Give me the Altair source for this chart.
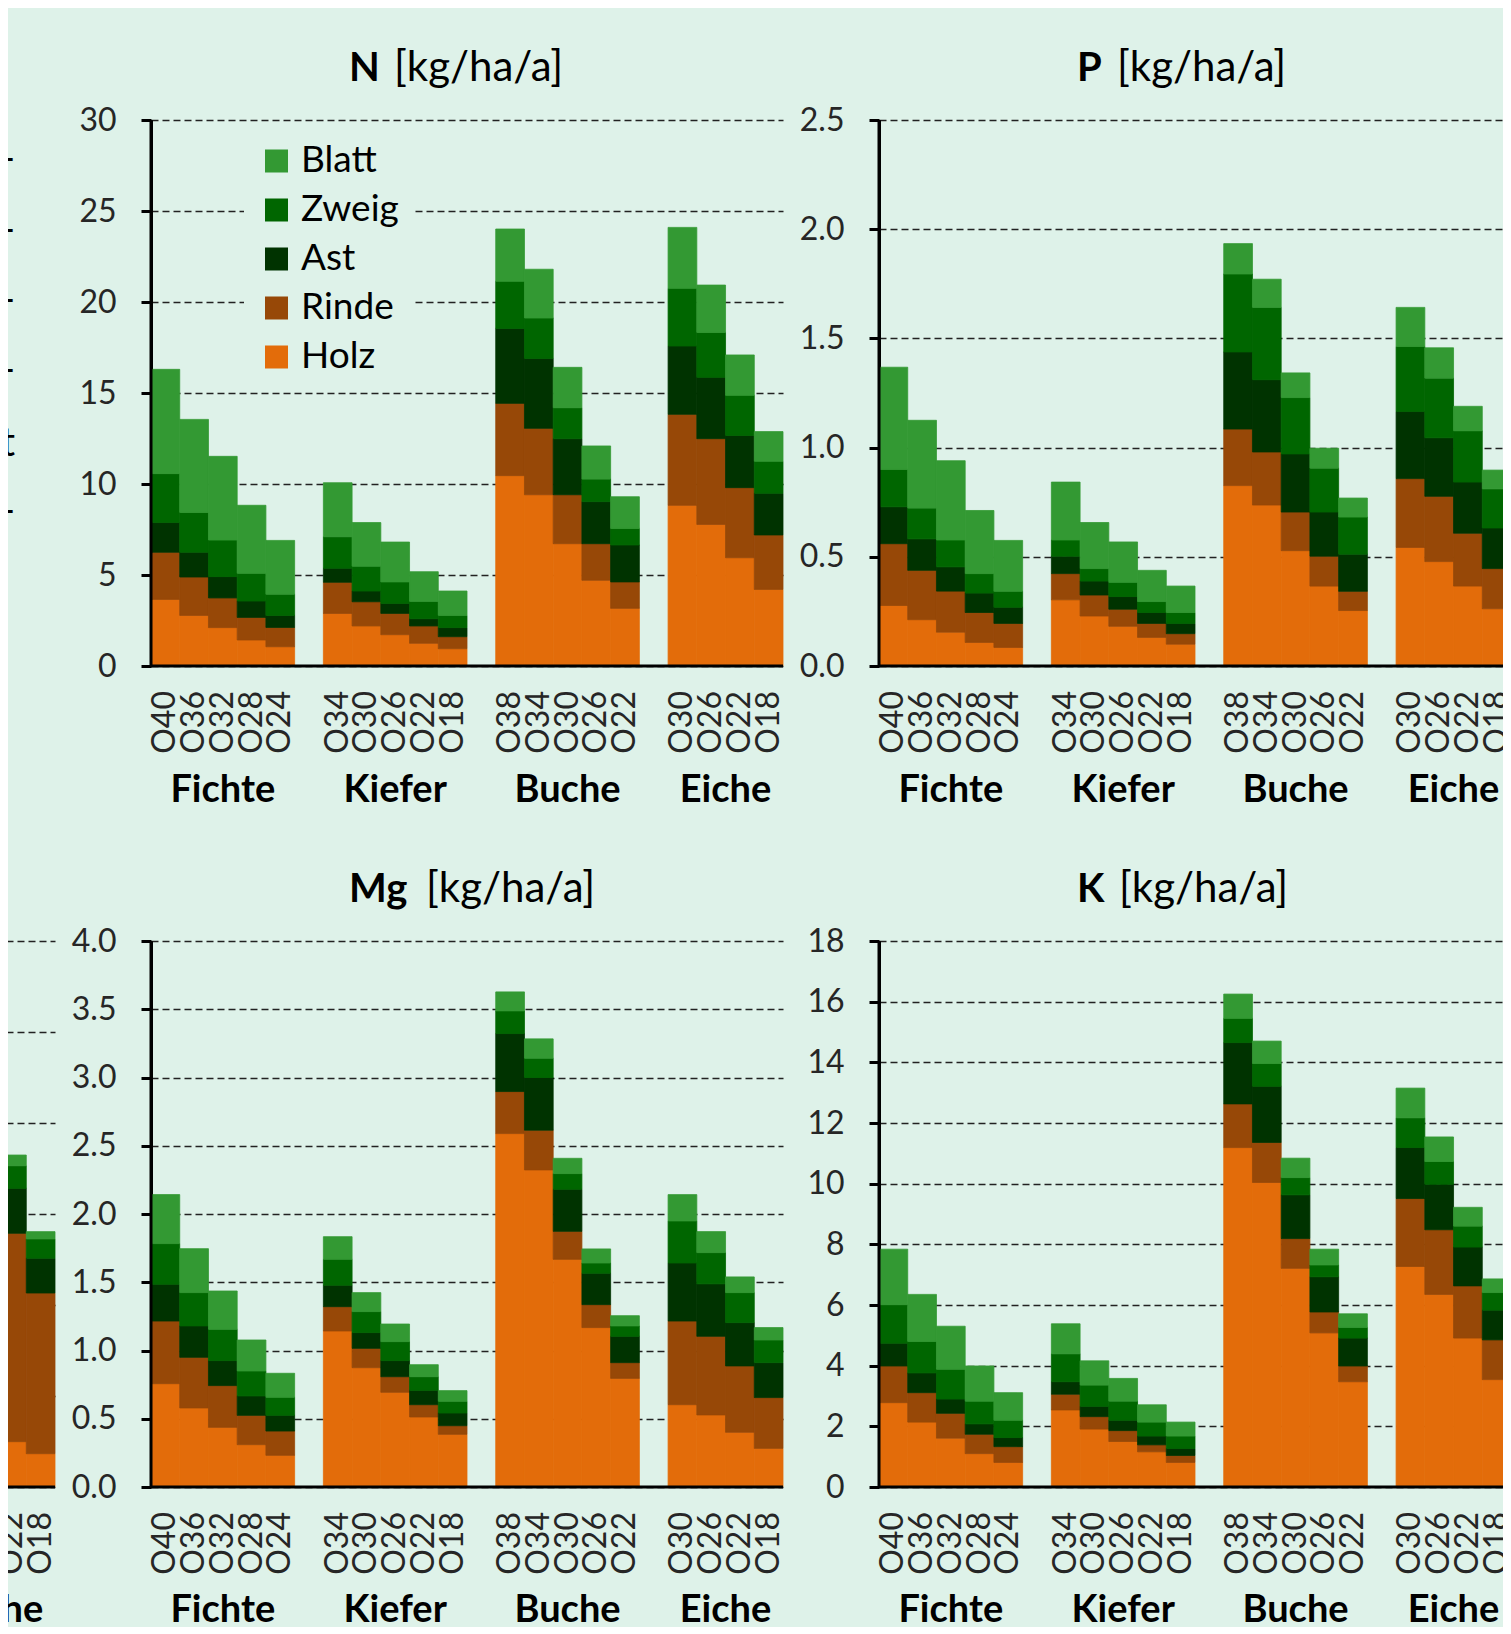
import altair as alt
import pandas as pd

BG = "#DEF2E9"
FONT = "Lato"

# ---------------- data ----------------
components = ["Blatt", "Zweig", "Ast", "Rinde", "Holz"]
colors = ["#339933", "#006600", "#003300", "#974807", "#E36C0A"]
stack_order = ["Holz", "Rinde", "Ast", "Zweig", "Blatt"]  # bottom -> top

species = ["Fichte", "Kiefer", "Buche", "Eiche"]
fichte_ages = ["O40", "O36", "O32", "O28", "O24"]
kiefer_ages = ["O34", "O30", "O26", "O22", "O18"]
buche_ages = ["O38", "O34", "O30", "O26", "O22"]
eiche_ages = ["O30", "O26", "O22", "O18"]

# cumulative stack tops (kg/ha/a), bars in order Fichte | Kiefer | Buche | Eiche
N_holz = [3.66, 2.78, 2.11, 1.43, 1.06, 2.89, 2.20, 1.72, 1.25, 0.95, 10.46, 9.41, 6.72, 4.71, 3.17, 8.83, 7.78, 5.95, 4.21]
N_rinde = [6.25, 4.89, 3.74, 2.67, 2.12, 4.60, 3.53, 2.89, 2.20, 1.61, 14.43, 13.06, 9.41, 6.72, 4.62, 13.83, 12.49, 9.80, 7.20]
N_ast = [7.88, 6.25, 4.91, 3.57, 2.78, 5.37, 4.12, 3.44, 2.60, 2.11, 18.55, 16.90, 12.49, 9.03, 6.65, 17.58, 15.86, 12.67, 9.49]
N_zweig = [10.57, 8.44, 6.92, 5.09, 3.94, 7.10, 5.48, 4.62, 3.55, 2.78, 21.14, 19.12, 14.19, 10.27, 7.56, 20.75, 18.33, 14.87, 11.25]
N_blatt = [16.30, 13.55, 11.52, 8.83, 6.90, 10.07, 7.88, 6.81, 5.18, 4.12, 24.01, 21.80, 16.41, 12.09, 9.30, 24.10, 20.93, 17.09, 12.88]

P_holz = [0.277, 0.212, 0.155, 0.108, 0.085, 0.303, 0.229, 0.182, 0.131, 0.100, 0.826, 0.737, 0.528, 0.366, 0.254, 0.543, 0.478, 0.366, 0.262]
P_rinde = [0.560, 0.438, 0.343, 0.245, 0.195, 0.423, 0.325, 0.260, 0.195, 0.148, 1.085, 0.980, 0.705, 0.503, 0.342, 0.858, 0.777, 0.608, 0.446]
P_ast = [0.729, 0.582, 0.454, 0.334, 0.269, 0.503, 0.389, 0.318, 0.245, 0.195, 1.438, 1.311, 0.971, 0.705, 0.512, 1.165, 1.045, 0.842, 0.632]
P_zweig = [0.900, 0.723, 0.577, 0.423, 0.342, 0.577, 0.446, 0.383, 0.295, 0.245, 1.795, 1.642, 1.229, 0.906, 0.682, 1.463, 1.318, 1.077, 0.811]
P_blatt = [1.368, 1.125, 0.940, 0.712, 0.575, 0.842, 0.657, 0.568, 0.438, 0.366, 1.934, 1.771, 1.342, 0.997, 0.769, 1.642, 1.457, 1.189, 0.897]

Mg_holz = [0.757, 0.579, 0.437, 0.310, 0.232, 1.143, 0.874, 0.694, 0.513, 0.386, 2.589, 2.323, 1.668, 1.168, 0.796, 0.603, 0.528, 0.401, 0.283]
Mg_rinde = [1.216, 0.950, 0.743, 0.525, 0.410, 1.321, 1.016, 0.808, 0.603, 0.449, 2.897, 2.614, 1.873, 1.336, 0.911, 1.216, 1.104, 0.887, 0.655]
Mg_ast = [1.485, 1.180, 0.926, 0.667, 0.525, 1.478, 1.131, 0.926, 0.708, 0.542, 3.322, 3.000, 2.181, 1.566, 1.104, 1.641, 1.488, 1.204, 0.911]
Mg_zweig = [1.783, 1.424, 1.155, 0.850, 0.657, 1.668, 1.285, 1.065, 0.808, 0.628, 3.488, 3.141, 2.296, 1.641, 1.180, 1.949, 1.717, 1.424, 1.077]
Mg_blatt = [2.142, 1.746, 1.436, 1.077, 0.833, 1.834, 1.424, 1.194, 0.896, 0.706, 3.627, 3.283, 2.408, 1.744, 1.255, 2.142, 1.871, 1.539, 1.168]

K_holz = [2.78, 2.14, 1.61, 1.10, 0.81, 2.54, 1.91, 1.50, 1.16, 0.81, 11.19, 10.04, 7.21, 5.08, 3.47, 7.27, 6.35, 4.91, 3.54]
K_rinde = [3.99, 3.11, 2.43, 1.74, 1.33, 3.06, 2.32, 1.86, 1.39, 1.04, 12.63, 11.36, 8.19, 5.77, 3.99, 9.51, 8.48, 6.63, 4.85]
K_ast = [4.74, 3.76, 2.90, 2.08, 1.63, 3.47, 2.66, 2.20, 1.68, 1.27, 14.65, 13.21, 9.63, 6.93, 4.91, 11.19, 9.98, 7.91, 5.83]
K_zweig = [6.01, 4.80, 3.88, 2.83, 2.20, 4.39, 3.36, 2.83, 2.14, 1.68, 15.45, 13.96, 10.20, 7.32, 5.26, 12.17, 10.73, 8.60, 6.41]
K_blatt = [7.84, 6.35, 5.30, 3.99, 3.11, 5.38, 4.16, 3.58, 2.71, 2.14, 16.25, 14.70, 10.84, 7.84, 5.71, 13.15, 11.54, 9.22, 6.86]

# partially visible panel at the lower left (only Eiche O22, O18 visible)
left_slots = ["Eiche|O22", "Eiche|O18"]
L_holz = [2.49, 1.83]
L_rinde = [13.94, 10.66]
L_ast = [16.41, 12.57]
L_zweig = [17.65, 13.63]
L_blatt = [18.24, 14.03]

# text fragments visible at the upper left edge
left_text = ["f-", "-", "-", "-", "t", "-"]

# ---------------- helpers ----------------
group_ages = [fichte_ages, kiefer_ages, buche_ages, eiche_ages]
SLOTS = []
BAR_SLOTS = []
for gi, (sp, ag) in enumerate(zip(species, group_ages)):
    for a in ag:
        SLOTS.append(f"{sp}|{a}")
        BAR_SLOTS.append(f"{sp}|{a}")
    if gi < len(species) - 1:
        SLOTS.append(f"gap{gi}")

W, H = 632, 546

x_scale = alt.Scale(domain=SLOTS, paddingInner=0, paddingOuter=0)
col_scale = alt.Scale(domain=components, range=colors)
age_df = pd.DataFrame({"slot": BAR_SLOTS, "age": [s.split("|")[1] for s in BAR_SLOTS]})


def marker(x, x2, y, y2):
    # invisible layout anchor that fixes the chart's outer extent
    return alt.Chart(pd.DataFrame({"a": [0]})).mark_rule(strokeWidth=1, strokeOpacity=0, color="black").encode(
        x=alt.value(x), x2=alt.value(x2), y=alt.value(y), y2=alt.value(y2)
    )


def make_df(slots, tops):
    rows = []
    for i, s in enumerate(slots):
        lo = 0.0
        for comp in stack_order:
            hi = tops[comp][i]
            rows.append({"slot": s, "comp": comp, "lo": lo, "hi": hi})
            lo = hi
    return pd.DataFrame(rows)


def panel(df, ymax, step, fmt, bold=None, unit_x=None, legend=False, ylabels=True, extra=(), label_y=682):
    vals = []
    v = 0.0
    while v <= ymax + 1e-9:
        vals.append(round(v, 3))
        v += step
    yaxis = alt.Axis(
        values=vals, format=fmt, title=None, grid=True, gridDash=[7, 4],
        gridColor="#222222", gridWidth=1.5, domain=ylabels, domainColor="black",
        domainWidth=3, ticks=ylabels, tickColor="black", tickWidth=3, tickSize=10,
        labels=ylabels, labelPadding=25, labelFontSize=32, labelFont=FONT,
        labelColor="#262626",
    )
    leg = None
    if legend:
        leg = alt.Legend(
            orient="none", legendX=93, legendY=8.5, title=None, direction="vertical",
            symbolType="square", symbolSize=529, symbolStrokeWidth=0,
            labelFontSize=37, labelFont=FONT, labelColor="black", labelOffset=6,
            rowPadding=11, padding=14, fillColor=BG,
        )
    bars = alt.Chart(df).mark_bar(strokeWidth=0.8).encode(
        x=alt.X("slot:N", scale=x_scale, sort=SLOTS, axis=None),
        y=alt.Y("lo:Q", scale=alt.Scale(domain=[0, ymax], nice=False, zero=True), axis=yaxis),
        y2="hi:Q",
        color=alt.Color("comp:N", scale=col_scale, legend=leg),
        stroke=alt.Stroke("comp:N", scale=col_scale, legend=None),
    )
    ages = alt.Chart(age_df).mark_text(
        angle=270, align="right", baseline="middle", fontSize=32, font=FONT, color="#262626"
    ).encode(x=alt.X("slot:N", scale=x_scale, axis=None), y=alt.value(H + 25), text="age:N")
    lab_df = pd.DataFrame({"slot": ["Fichte|O32", "Kiefer|O26", "Buche|O30"], "name": species[:3]})
    labs = alt.Chart(lab_df).mark_text(
        align="center", baseline="alphabetic", fontSize=38, fontWeight="bold", font=FONT, color="black"
    ).encode(x=alt.X("slot:N", scale=x_scale, axis=None), y=alt.value(label_y), text="name:N")
    lab2 = alt.Chart(pd.DataFrame({"slot": ["Eiche|O22"], "name": [species[3]]})).mark_text(
        align="center", baseline="alphabetic", fontSize=38, fontWeight="bold", font=FONT, color="black"
    ).encode(x=alt.X("slot:N", scale=x_scale, axis=None, bandPosition=0), y=alt.value(label_y), text="name:N")
    xline = alt.Chart(pd.DataFrame({"a": [0]})).mark_rule(color="black", strokeWidth=3).encode(
        x=alt.value(0), x2=alt.value(W), y=alt.value(H)
    )
    layers = [bars, ages, labs, lab2, xline]
    if ylabels:
        yline = alt.Chart(pd.DataFrame({"a": [0]})).mark_rule(color="black", strokeWidth=3).encode(
            x=alt.value(0), y=alt.value(0), y2=alt.value(H)
        )
        layers.append(yline)
    if bold is not None:
        t1 = alt.Chart(pd.DataFrame({"t": [bold]})).mark_text(
            align="left", baseline="alphabetic", fontSize=40, fontWeight="bold", font=FONT, color="black"
        ).encode(x=alt.value(198), y=alt.value(-39), text="t:N")
        t2 = alt.Chart(pd.DataFrame({"t": ["[kg/ha/a]"]})).mark_text(
            align="left", baseline="alphabetic", fontSize=42, font=FONT, color="black"
        ).encode(x=alt.value(unit_x), y=alt.value(-39), text="t:N")
        layers += [t1, t2]
    layers += list(extra)
    return alt.layer(*layers).properties(width=W, height=H)


def tops(h, r, a, z, b):
    return {"Holz": h, "Rinde": r, "Ast": a, "Zweig": z, "Blatt": b}


BOTTOM_LABEL_Y = 681

N_panel = panel(make_df(BAR_SLOTS, tops(N_holz, N_rinde, N_ast, N_zweig, N_blatt)), 30, 5, "d", "N", 243,
                legend=True, extra=[marker(0, 10, -100, -100)])
P_panel = panel(make_df(BAR_SLOTS, tops(P_holz, P_rinde, P_ast, P_zweig, P_blatt)), 2.5, 0.5, ".1f", "P", 238,
                extra=[marker(W + 20, W + 20, 0, 10)])
Mg_panel = panel(make_df(BAR_SLOTS, tops(Mg_holz, Mg_rinde, Mg_ast, Mg_zweig, Mg_blatt)), 4.0, 0.5, ".1f", "Mg", 275,
                 label_y=BOTTOM_LABEL_Y)
K_panel = panel(make_df(BAR_SLOTS, tops(K_holz, K_rinde, K_ast, K_zweig, K_blatt)), 18, 2, "d", "K", 240,
                extra=[marker(0, 10, 700, 700)], label_y=BOTTOM_LABEL_Y)
L_panel = panel(make_df(left_slots, tops(L_holz, L_rinde, L_ast, L_zweig, L_blatt)), 30, 5, "d", ylabels=False,
                label_y=BOTTOM_LABEL_Y)

baselines = [52, 123, 193, 263, 336, 404]
text_layers = [marker(-20, -20, 0, 10)]
for txt, b in zip(left_text, baselines):
    text_layers.append(
        alt.Chart(pd.DataFrame({"t": [txt]})).mark_text(
            align="right", baseline="alphabetic", fontSize=40, font=FONT, color="black"
        ).encode(x=alt.value(592), y=alt.value(b), text="t:N")
    )
T_panel = alt.layer(*text_layers).properties(width=W, height=H)

chart = (
    alt.concat(T_panel, N_panel, P_panel, L_panel, Mg_panel, K_panel, columns=3,
               spacing={"row": 275, "column": 96}, bounds="flush")
    .resolve_scale(x="independent", y="independent", color="independent", stroke="independent")
    .resolve_legend(color="independent")
    .properties(background=BG, padding={"left": -605, "top": 12, "right": -23, "bottom": -14})
    .configure(font=FONT)
    .configure_view(stroke="transparent", strokeWidth=0)
)

chart.save("out.html", embed_options={"renderer": "svg", "actions": False, "bind": "head"})
